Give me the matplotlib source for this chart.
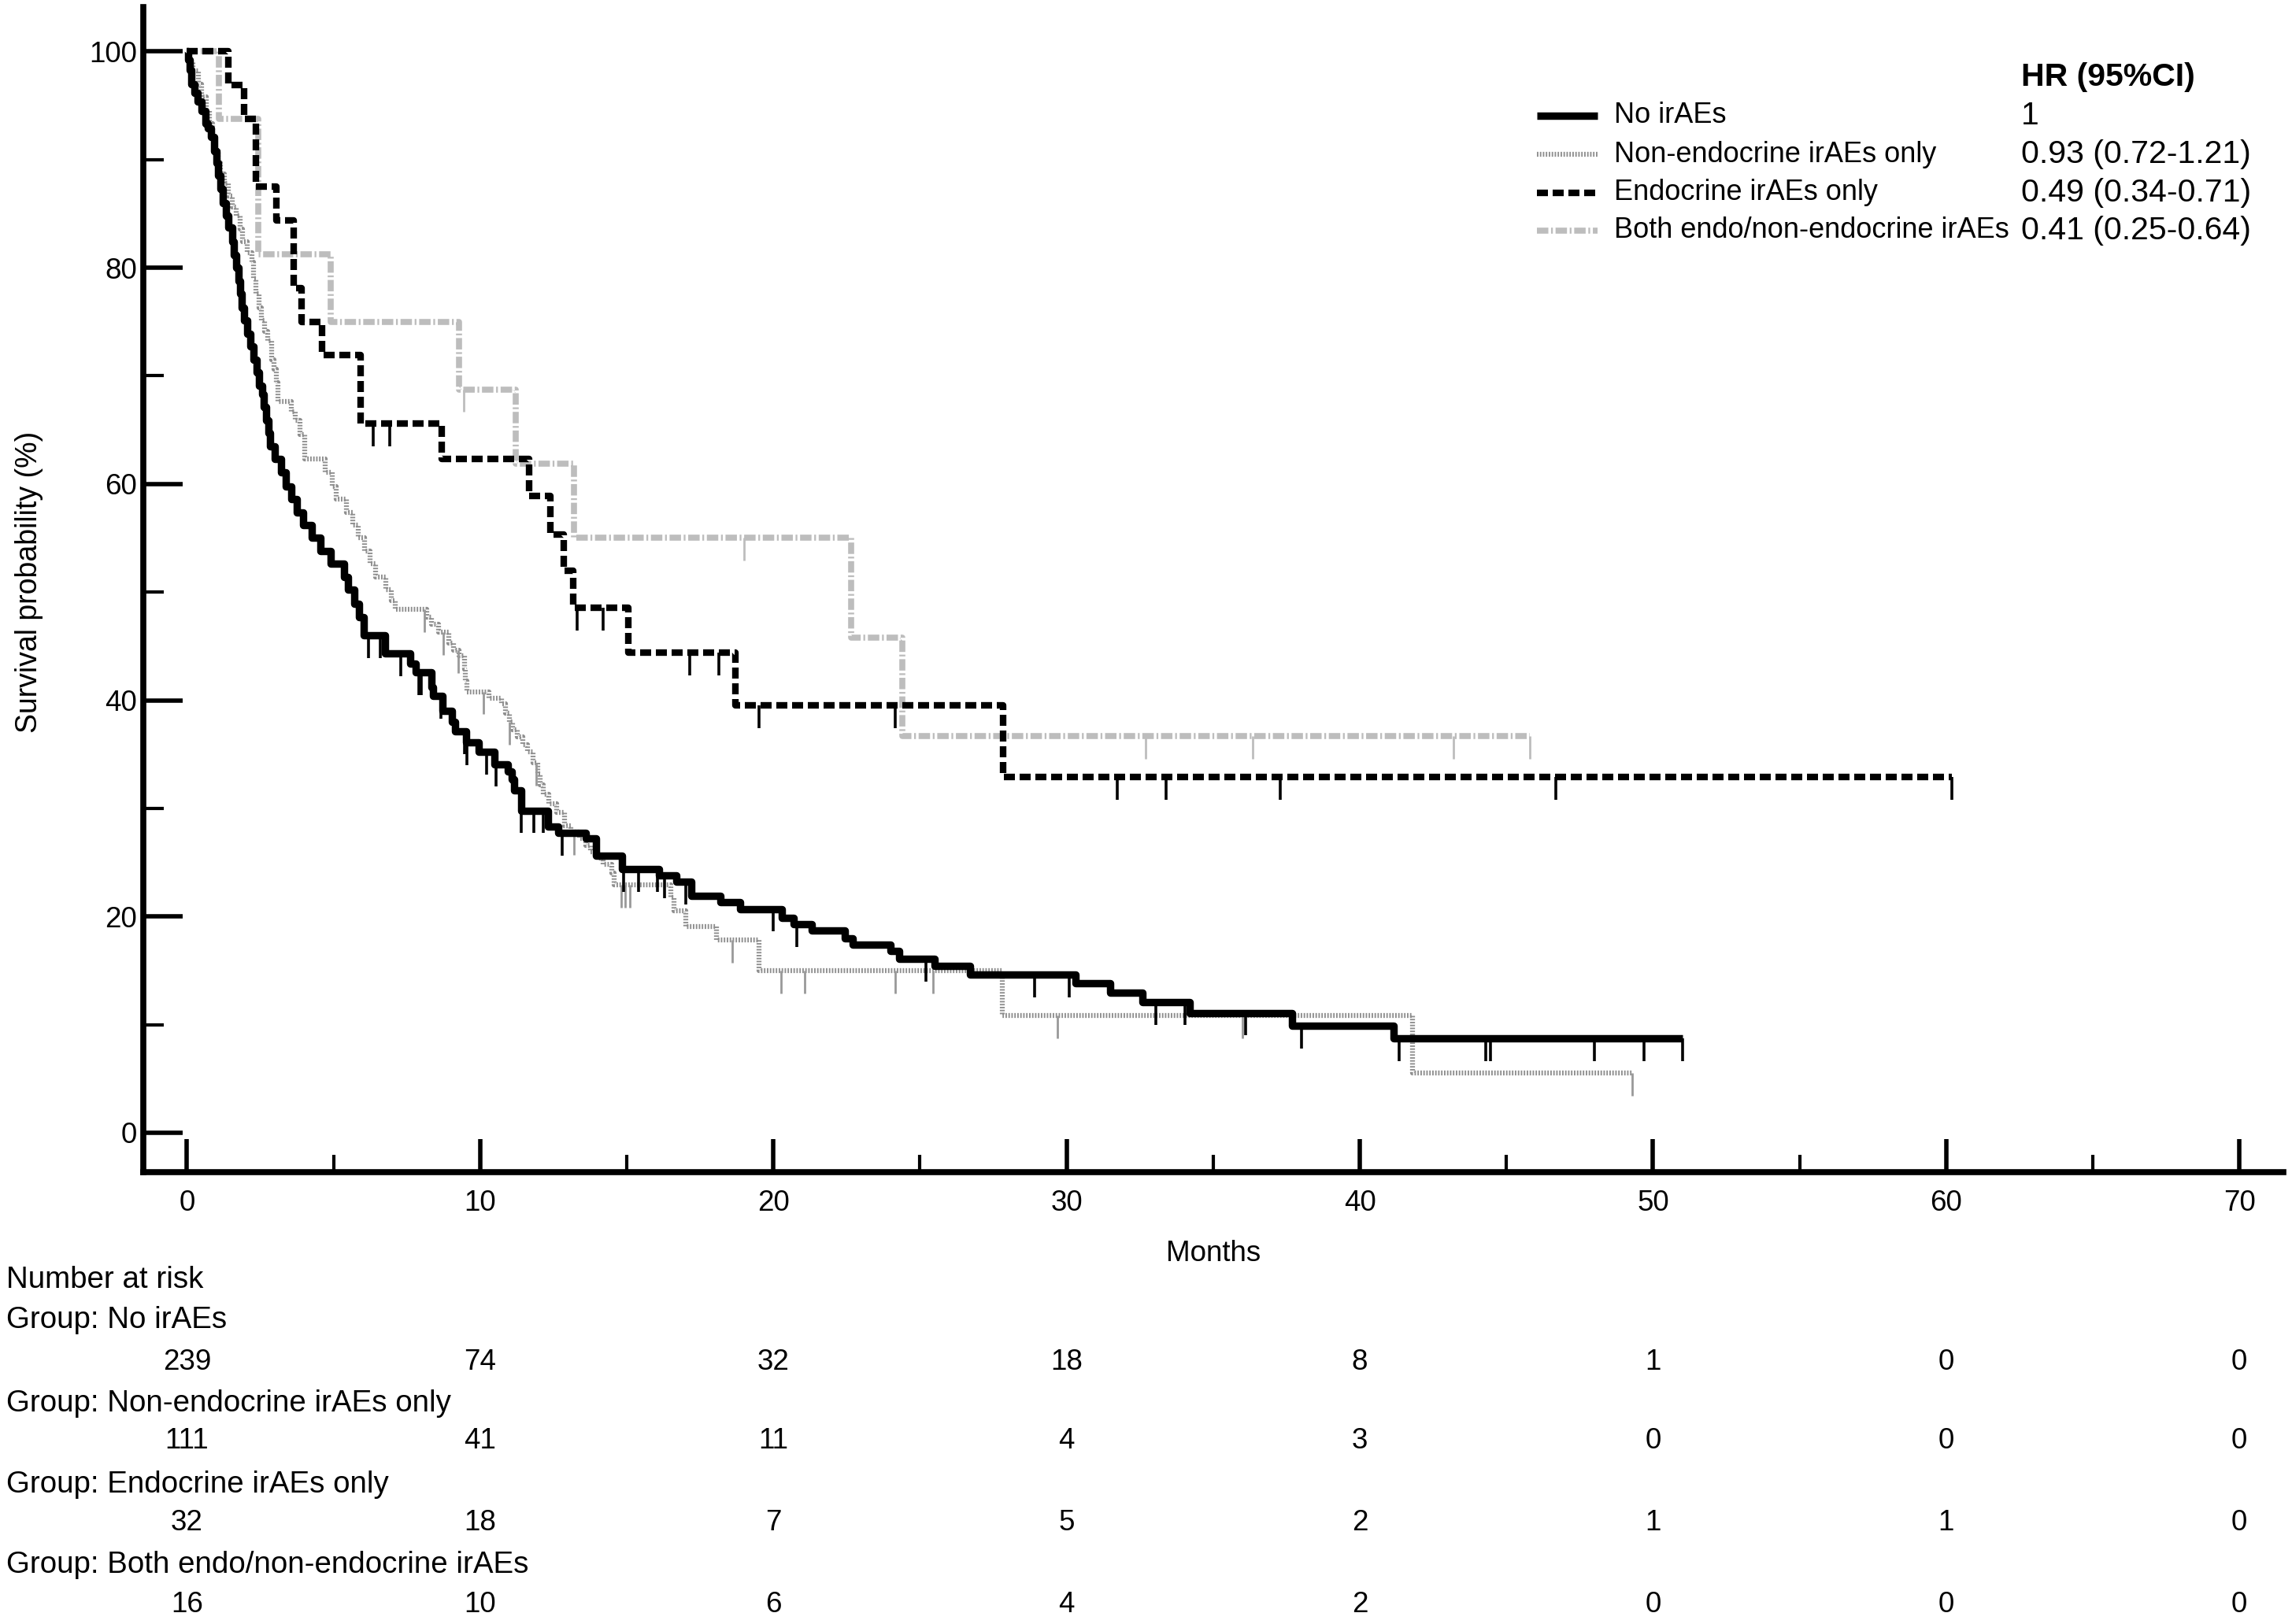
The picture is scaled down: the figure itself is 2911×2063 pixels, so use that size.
import numpy as np
import matplotlib
matplotlib.use('Agg')
from matplotlib import pyplot as plt
from matplotlib.lines import Line2D
from matplotlib.transforms import blended_transform_factory

plt.rcParams['font.family'] = ['Liberation Sans', 'DejaVu Sans']

W, H = 2911, 2063
FS_TICK = 26.5
FS_LEG = 26
FS_HR = 29.5
FS_TAB = 27.7

# ---- data (months, survival %) ----
t_no = [0, 0.05, 0.10, 0.15, 0.25, 0.35, 0.51, 0.62, 0.72, 0.83, 0.92, 1.00, 1.07, 1.14,
        1.22, 1.32, 1.42, 1.54, 1.61, 1.68, 1.75, 1.81, 1.88, 1.94, 2.05, 2.17, 2.27, 2.39,
        2.47, 2.56, 2.63, 2.70, 2.77, 2.84, 3.0, 3.2, 3.38, 3.56, 3.76, 3.96, 4.25, 4.54,
        4.9, 5.35, 5.5, 5.7, 5.88, 6.02, 6.75, 7.62, 7.80, 8.33, 8.39, 8.72, 9.05, 9.15,
        9.52, 9.95, 10.5, 10.95, 11.08, 11.17, 11.4, 12.3, 12.65, 13.6, 13.94, 14.84,
        16.1, 16.7, 17.2, 18.2, 18.87, 20.3, 20.7, 21.3, 22.45, 22.7, 24.0, 24.3, 25.5,
        26.7, 30.3, 31.5, 32.6, 34.2, 37.7, 41.15, 51.0]
s_no = [100, 99.2, 98.3, 97.0, 96.2, 95.4, 94.5, 93.3, 92.9, 92.1, 90.8, 89.7, 88.5, 87.3,
        86.0, 84.8, 83.7, 82.4, 81.2, 80.0, 78.8, 77.6, 76.3, 75.1, 73.9, 72.7, 71.5, 70.3,
        69.1, 68.3, 67.1, 65.9, 64.7, 63.5, 62.3, 61.1, 59.8, 58.6, 57.4, 56.2, 55.0, 53.8,
        52.6, 51.4, 50.2, 48.9, 47.7, 46.0, 44.3, 43.4, 42.6, 41.2, 40.4, 39.0, 38.0, 37.1,
        36.1, 35.2, 34.1, 33.4, 32.7, 31.7, 29.8, 28.3, 27.7, 27.2, 25.6, 24.4,
        23.8, 23.2, 21.9, 21.3, 20.7, 19.9, 19.3, 18.7, 18.0, 17.4, 16.8, 16.1, 15.4,
        14.6, 13.8, 12.95, 12.1, 11.1, 9.9, 8.7, 8.7]
c_no = [6.2, 6.6, 7.3, 7.9, 8.0, 8.66, 9.47, 9.55, 10.22, 10.54, 11.4, 11.84, 12.15, 12.8,
        14.9, 15.4, 16.05, 16.3, 17.0, 20.0, 20.8, 25.2, 28.9, 30.1, 33.05, 34.05, 36.1,
        38.0, 41.35, 44.3, 44.45, 48.0, 49.7, 51.0]

t_ne = [0, 0.07, 0.2, 0.38, 0.5, 0.65, 0.76, 0.87, 0.96, 1.05, 1.15, 1.27, 1.4, 1.55, 1.68,
        1.8, 1.9, 2.05, 2.21, 2.28, 2.35, 2.45, 2.53, 2.65, 2.75, 2.9, 2.97, 3.05, 3.1, 3.55,
        3.69, 3.85, 4.02, 4.7, 4.95, 5.08, 5.45, 5.66, 5.85, 6.06, 6.25, 6.42, 6.78, 6.96,
        7.1, 8.17, 8.35, 8.57, 8.93, 9.1, 9.29, 9.47, 9.5, 9.55, 10.3, 10.72, 10.85, 10.99,
        11.1, 11.26, 11.45, 11.61, 11.8, 11.97, 12.05, 12.15, 12.35, 12.6, 12.87, 13.1,
        13.4, 13.6, 13.76, 14.0, 14.2, 14.48, 14.57, 16.5, 16.6, 17.0, 18.06, 19.5, 27.8,
        41.8, 49.3]
s_ne = [100, 99.1, 98.2, 97.0, 95.8, 94.5, 93.3, 92.1, 90.9, 89.7, 88.7, 87.8, 86.6, 85.6,
        84.8, 83.6, 82.4, 81.4, 80.5, 79.0, 77.6, 76.3, 75.1, 74.1, 73.2, 71.5, 70.6, 69.4,
        67.6, 66.7, 65.9, 64.6, 62.3, 61.1, 59.8, 58.6, 57.4, 56.2, 55.0, 53.8, 52.6, 51.4,
        50.2, 49.2, 48.4, 47.7, 47.0, 46.3, 45.3, 44.6, 44.1, 42.9, 41.8, 40.8, 40.2, 39.7,
        38.8, 38.0, 37.3, 36.6, 35.9, 35.2, 34.2, 33.2, 32.2, 31.3, 30.4, 29.6, 28.4, 27.8,
        27.2, 26.6, 26.0, 25.4, 24.8, 24.0, 22.9, 21.8, 20.5, 19.1, 17.8, 15.0, 10.85,
        5.5, 5.5]
c_ne = [8.1, 8.75, 9.25, 10.1, 10.99, 11.9, 13.2, 14.8, 14.95, 15.1, 18.6, 20.25, 21.06,
        24.15, 25.45, 29.7, 36.0, 49.3]

t_en = [0, 1.42, 1.94, 2.35, 3.05, 3.65, 3.9, 4.6, 5.92, 8.68, 11.67, 12.4, 12.86, 13.16,
        15.05, 18.7, 27.84, 60.2]
s_en = [100, 96.9, 93.75, 87.5, 84.4, 78.1, 75.0, 71.9, 65.6, 62.3, 58.9, 55.3, 52.0, 48.55,
        44.4, 39.5, 32.9, 32.9]
c_en = [6.34, 6.92, 13.3, 14.2, 17.14, 18.14, 19.5, 24.15, 31.74, 33.4, 37.3, 46.7, 60.2]

t_bo = [0, 1.08, 2.44, 4.9, 9.28, 11.2, 13.2, 22.65, 24.4, 45.8]
s_bo = [100, 93.75, 81.25, 75.0, 68.75, 61.9, 55.0, 45.8, 36.7, 36.7]
c_bo = [9.45, 19.0, 32.7, 36.35, 43.2, 45.8]

groups = ['No irAEs', 'Non-endocrine irAEs only', 'Endocrine irAEs only',
          'Both endo/non-endocrine irAEs']
hr_text = ['1', '0.93 (0.72-1.21)', '0.49 (0.34-0.71)', '0.41 (0.25-0.64)']

risk_months = [0, 10, 20, 30, 40, 50, 60, 70]
risk_no = [239, 74, 32, 18, 8, 1, 0, 0]
risk_ne = [111, 41, 11, 4, 3, 0, 0, 0]
risk_en = [32, 18, 7, 5, 2, 1, 1, 0]
risk_bo = [16, 10, 6, 4, 2, 0, 0, 0]

# ---- styles ----
styles = [
    dict(color='black', lw=6.8, ls='-'),
    dict(color='#8f8f8f', lw=4.5, dashes=(0.3, 0.3)),
    dict(color='black', lw=6, dashes=(1.68, 0.72)),
    dict(color='#bdbdbd', lw=5.5, dashes=(1.9, 0.45, 0.3, 0.45)),
]
tick_style = [('black', 2.6), ('#999999', 2.0), ('black', 2.6), ('#bdbdbd', 2.0)]

fig = plt.figure(figsize=(W / 100, H / 100), dpi=100)
ax = fig.add_axes([182 / W, 1 - 1489 / H, (2900 - 182) / W, (1489 - 9) / H])

data = [(t_bo, s_bo, c_bo, 3), (t_ne, s_ne, c_ne, 1), (t_en, s_en, c_en, 2), (t_no, s_no, c_no, 0)]
for t, s, c, k in data:
    t = np.array(t)
    s = np.array(s)
    st = dict(styles[k])
    ax.step(t, s, where='post', solid_capstyle='butt', dash_capstyle='butt', **st)
    idx = np.searchsorted(t, c, side='right') - 1
    lev = s[np.clip(idx, 0, len(s) - 1)]
    col, w = tick_style[k]
    ax.vlines(c, lev - 2.1, lev, color=col, lw=w)

ax.set_xlim(-1.49, 71.5)
ax.set_ylim(-3.64, 104.1)
for side in ['top', 'right']:
    ax.spines[side].set_visible(False)
for side in ['left', 'bottom']:
    ax.spines[side].set_linewidth(5.5)

ax.set_xticks(np.arange(0, 71, 10))
ax.set_xticks(np.arange(5, 70, 10), minor=True)
ax.set_yticks(np.arange(0, 101, 20))
ax.set_yticks(np.arange(10, 100, 20), minor=True)
ax.tick_params(axis='x', which='major', direction='in', length=30, width=4, labelsize=FS_TICK, pad=16)
ax.tick_params(axis='x', which='minor', direction='in', length=16, width=3)
ax.tick_params(axis='y', which='major', direction='in', length=36, width=4, labelsize=FS_TICK, pad=6)
ax.tick_params(axis='y', which='minor', direction='in', length=19, width=3)

fig.text(1541 / W, 1 - 1593 / H, 'Months', fontsize=FS_TICK, ha='center', va='center')
fig.text(37 / W, 1 - 739 / H, 'Survival probability (%)', fontsize=27, ha='center', va='center',
         rotation=90)

# ---- legend with HR column ----
fig.text(2567 / W, 1 - 98 / H, 'HR (95%CI)', fontsize=FS_HR, fontweight='bold', ha='left', va='center')
row_y = [147, 196, 245, 293]
for k in range(4):
    yy = 1 - row_y[k] / H
    st = dict(styles[k])
    fig.add_artist(Line2D([1952 / W, 2029 / W], [yy, yy], transform=fig.transFigure,
                          solid_capstyle='butt', dash_capstyle='butt', **st))
    fig.text(2050 / W, yy, groups[k], fontsize=FS_LEG, ha='left', va='center')
    fig.text(2567 / W, yy, hr_text[k], fontsize=FS_HR, ha='left', va='center')

# ---- number at risk table ----
fig.text(8 / W, 1 - 1626 / H, 'Number at risk', fontsize=FS_TAB, ha='left', va='center')
trans = blended_transform_factory(ax.transData, fig.transFigure)
head_y = [1677, 1783, 1886, 1988]
num_y = [1730, 1831, 1935, 2038]
for k, risk in enumerate([risk_no, risk_ne, risk_en, risk_bo]):
    fig.text(8 / W, 1 - head_y[k] / H, 'Group: ' + groups[k], fontsize=FS_TAB, ha='left', va='center')
    for m, n in zip(risk_months, risk):
        ax.text(m, 1 - num_y[k] / H, str(n), fontsize=FS_TICK, ha='center', va='center',
                transform=trans, clip_on=False)

fig.savefig('out.png', dpi=100)
